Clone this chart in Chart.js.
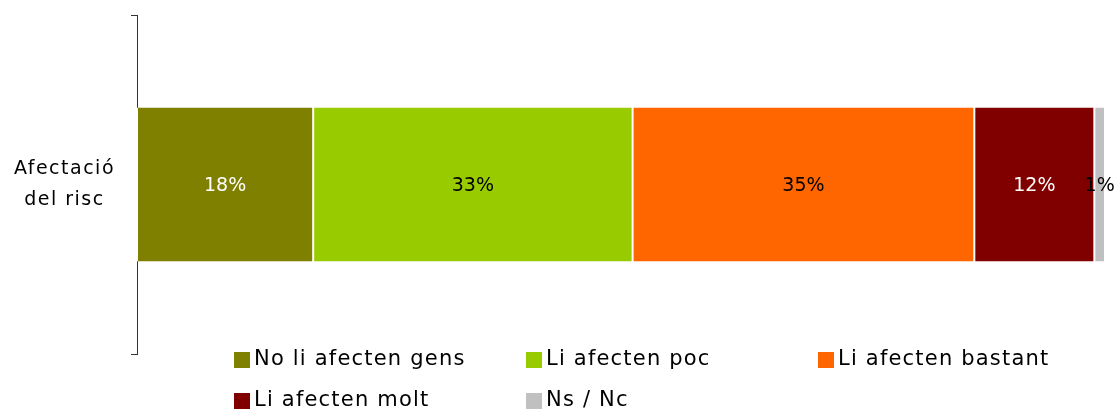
<!DOCTYPE html>
<html>
<head>
<meta charset="utf-8">
<script src="https://cdn.jsdelivr.net/npm/chart.js@4"></script>
<style>
  body { margin: 0; background: #fff; }
  #wrap { position: relative; width: 1115px; height: 409px; overflow: hidden; }
  #legend { position: absolute; left: 234px; top: 346px; width: 880px; display: flex; flex-wrap: wrap;
    font-family: 'DejaVu Sans', sans-serif; font-size: 21px; letter-spacing: 1.2px; color: #000; }
  .item { width: 292px; height: 41px; display: flex; align-items: flex-start; }
  .box { width: 16px; height: 16px; margin-top: 6px; margin-right: 4px; }
</style>
</head>
<body>
<div id="wrap">
  <canvas id="chart" width="1115" height="409"></canvas>
  <div id="legend"></div>
</div>
<script>
const categories = [['Afectació', 'del risc']];
const seriesNames = ['No li afecten gens', 'Li afecten poc', 'Li afecten bastant', 'Li afecten molt', 'Ns / Nc'];
const seriesValues = [[18.2], [33.0], [35.3], [12.4], [1.1]];
const seriesColors = ['#808000', '#99CC00', '#FF6600', '#800000', '#C0C0C0'];
const labelColors = ['#ffffff', '#000000', '#000000', '#ffffff', '#000000'];

const FONT = "'DejaVu Sans', sans-serif";

// wider spacing to get closer to the original's geometric font
const spacing = {
  id: 'spacing',
  beforeUpdate(chart) { chart.ctx.letterSpacing = '1.5px'; },
  beforeDraw(chart) { chart.ctx.letterSpacing = '1.5px'; }
};

const barLabels = {
  id: 'barLabels',
  afterDatasetsDraw(chart) {
    const ctx = chart.ctx;
    ctx.save();
    ctx.letterSpacing = '0px';
    ctx.font = '19px ' + FONT;
    ctx.textAlign = 'center';
    ctx.textBaseline = 'middle';
    chart.data.datasets.forEach((ds, i) => {
      chart.getDatasetMeta(i).data.forEach((bar, j) => {
        const c = bar.getCenterPoint();
        ctx.fillStyle = labelColors[i];
        ctx.fillText(Math.round(ds.data[j]) + '%', c.x, c.y + 2);
      });
    });
    ctx.restore();
  }
};

new Chart(document.getElementById('chart'), {
  type: 'bar',
  data: {
    labels: categories,
    datasets: seriesNames.map((name, i) => ({
      label: name,
      data: seriesValues[i],
      backgroundColor: seriesColors[i],
      borderColor: '#ffffff',
      borderWidth: { left: 1, right: 1, top: 0, bottom: 0 },
      borderSkipped: false,
      barPercentage: 0.455,
      categoryPercentage: 1
    }))
  },
  options: {
    indexAxis: 'y',
    responsive: false,
    animation: false,
    layout: { padding: { top: 15, right: 10, bottom: 55, left: 0 } },
    plugins: { legend: { display: false }, tooltip: { enabled: false } },
    scales: {
      x: { stacked: true, min: 0, max: 100, display: false },
      y: {
        stacked: true,
        border: { display: true, color: '#333', width: 1 },
        grid: { drawOnChartArea: false, tickLength: 6, color: '#333' },
        ticks: { color: '#000', font: { family: FONT, size: 19, lineHeight: 1.6 }, crossAlign: 'center', padding: 16 },
        afterFit(axis) { axis.width = 137; axis.paddingTop = 0; axis.paddingBottom = 0; }
      }
    }
  },
  plugins: [spacing, barLabels]
});

const legend = document.getElementById('legend');
seriesNames.forEach((name, i) => {
  const item = document.createElement('div');
  item.className = 'item';
  const box = document.createElement('span');
  box.className = 'box';
  box.style.background = seriesColors[i];
  const txt = document.createElement('span');
  txt.textContent = name;
  item.appendChild(box);
  item.appendChild(txt);
  legend.appendChild(item);
});
</script>
</body>
</html>
